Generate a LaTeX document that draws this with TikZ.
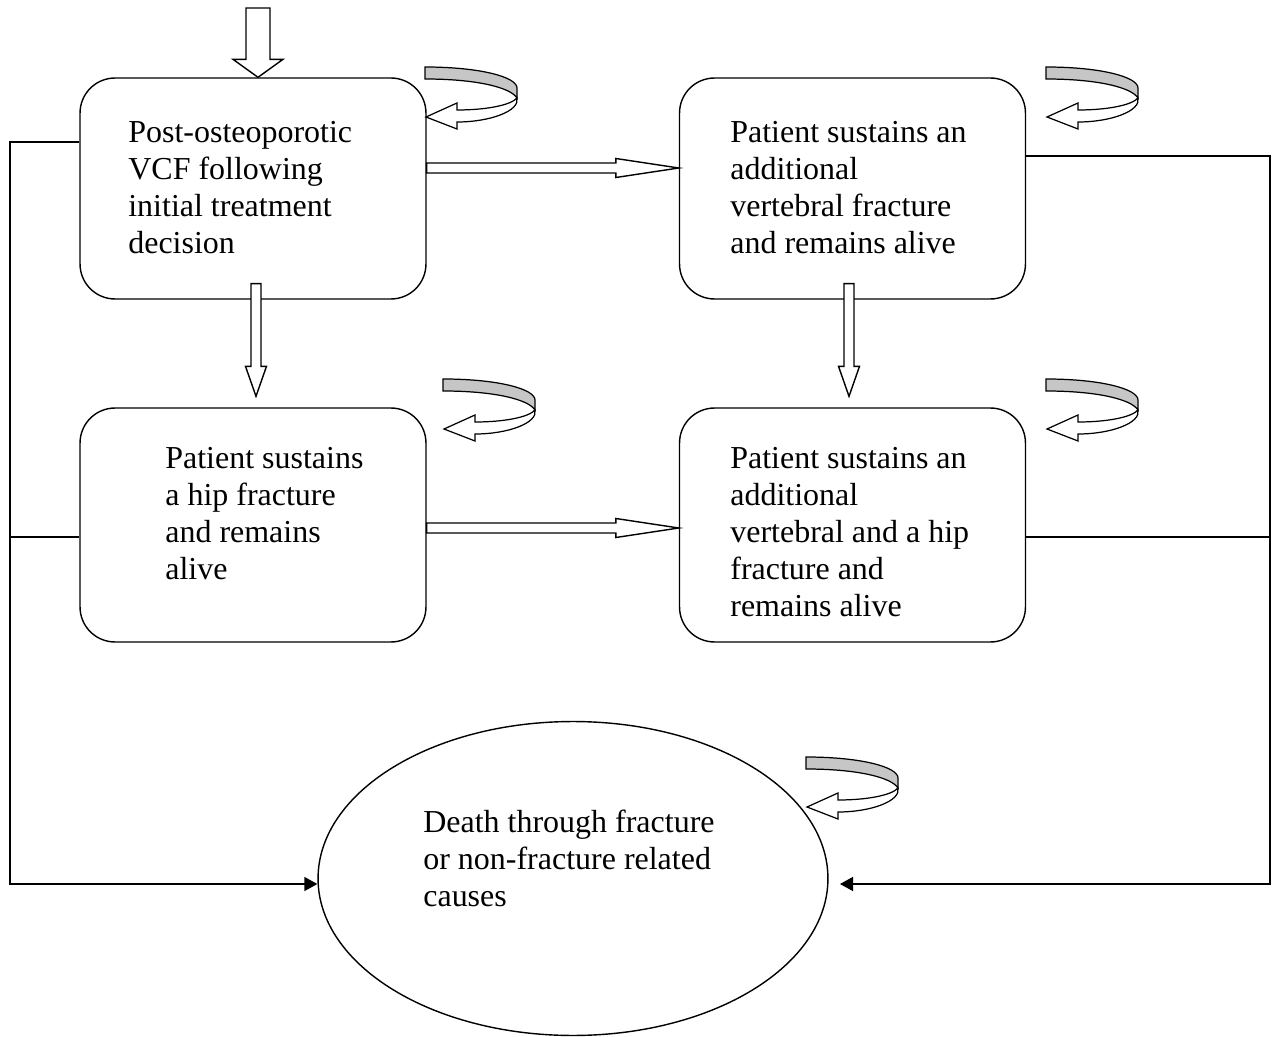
\documentclass[tikz,border=0pt]{standalone}
\usepackage{fontspec}
\setmainfont{Liberation Serif}
\usetikzlibrary{shapes.geometric,arrows.meta,calc}
\newcommand\vblock[5]{%
 \draw[blk] let \p1=(#1), \p2=(#2) in (\x1-#3,\y1) -- (\x1-#3,\y2+#5) -- (\x1-#4,\y2+#5) -- (\x1,\y2) -- (\x1+#4,\y2+#5) -- (\x1+#3,\y2+#5) -- (\x1+#3,\y1) -- cycle;}
\newcommand\hblock[5]{%
 \draw[blk] let \p1=(#1), \p2=(#2) in (\x1,\y1+#3) -- (\x2-#5,\y1+#3) -- (\x2-#5,\y1+#4) -- (\x2,\y1) -- (\x2-#5,\y1-#4) -- (\x2-#5,\y1-#3) -- (\x1,\y1-#3) -- cycle;}
\tikzset{
 box/.style={draw, line width=0.8pt, rounded corners=0.7cm, minimum width=6.92cm, inner sep=0},
 txt/.style={font=\fontsize{18.2pt}{21.04pt}\selectfont, align=left, anchor=north west, inner sep=0},
 conn/.style={line width=0.8pt},
 blk/.style={draw, fill=white, line width=0.8pt},
 tip/.style={-{Triangle[length=0.26cm,width=0.28cm]}},
 uturn/.pic={
  \path[draw, fill=gray!45, line width=0.7pt] (0,0) .. controls (55,0) and (92,10) .. (92,21) -- (92,31) .. controls (85,20) and (50,12) .. (0,12) -- cycle;
  \path[draw, fill=white, line width=0.7pt] (92,31) .. controls (95,44) and (65,55) .. (32,55) -- (32,62) -- (1,50) -- (32,36) -- (32,43) .. controls (62,43) and (86,38) .. (92,31) -- cycle;
 }
}
\begin{document}
\begin{tikzpicture}[x=0.02cm,y=-0.02cm]
\useasboundingbox (0,0) rectangle (1275,1037);
% boxes
\node[box, minimum height=4.42cm] (A) at (253,188.5) {};
\node[box, minimum height=4.42cm] (B) at (852.5,188.5) {};
\node[box, minimum height=4.68cm] (C) at (253,525) {};
\node[box, minimum height=4.68cm] (D) at (852.5,525) {};
\node[draw, line width=0.8pt, ellipse, minimum width=10.2cm, minimum height=6.28cm, inner sep=0] (E) at (573,878.5) {};
% texts
\node[txt] (tA) at (128,121) {Post-osteoporotic\\VCF following\\initial treatment\\decision};
\node[txt] (tB) at (730,121) {Patient sustains an\\additional\\vertebral fracture\\and remains alive};
\node[txt] (tC) at (165,447) {Patient sustains\\a hip fracture\\and remains\\alive};
\node[txt] (tD) at (730,447) {Patient sustains an\\additional\\vertebral and a hip\\fracture and\\remains alive};
\node[txt] (tE) at (423,810) {Death through fracture\\or non-fracture related\\causes};
% connectors to death
\coordinate (Lx) at (10,0);
\coordinate (Rx) at (1270,0);
\draw[conn, tip] (A.west |- 0,142) -- (Lx |- 0,142) -- (Lx |- 0,884) -- (E.west |- 0,884);
\draw[conn] (C.west |- 0,537) -- (Lx |- 0,537);
\coordinate (Rend) at (840,884);
\draw[conn, tip] (B.east |- 0,156) -- (Rx |- 0,156) -- (Rx |- 0,884) -- (Rend);
\draw[conn] (D.east |- 0,537) -- (Rx |- 0,537);
% block arrows
\coordinate (top) at (258,8);
\vblock{top}{top |- A.north}{0.24cm}{0.5cm}{0.36cm}
\path (A.south) ++(3,-16) coordinate (ac1);
\path (C.north) ++(3,-11) coordinate (ac2);
\vblock{ac1}{ac2}{0.1cm}{0.21cm}{0.6cm}
\path (B.south) ++(-3.5,-16) coordinate (bd1);
\path (D.north) ++(-3.5,-11) coordinate (bd2);
\vblock{bd1}{bd2}{0.1cm}{0.21cm}{0.6cm}
\path (A.east) ++(0,-20.5) coordinate (ab1);
\path (B.west) ++(0,-20.5) coordinate (ab2);
\hblock{ab1}{ab2}{0.1cm}{0.19cm}{1.26cm}
\path (C.east) ++(0,3) coordinate (cd1);
\path (D.west) ++(0,3) coordinate (cd2);
\hblock{cd1}{cd2}{0.1cm}{0.19cm}{1.26cm}
% self-loop arrows
\pic (uA) at (425,67) {uturn};
\pic (uB) at (1046,67) {uturn};
\pic (uC) at (443,379) {uturn};
\pic (uD) at (1046,379) {uturn};
\pic (uE) at (806,757) {uturn};
\end{tikzpicture}
\end{document}
